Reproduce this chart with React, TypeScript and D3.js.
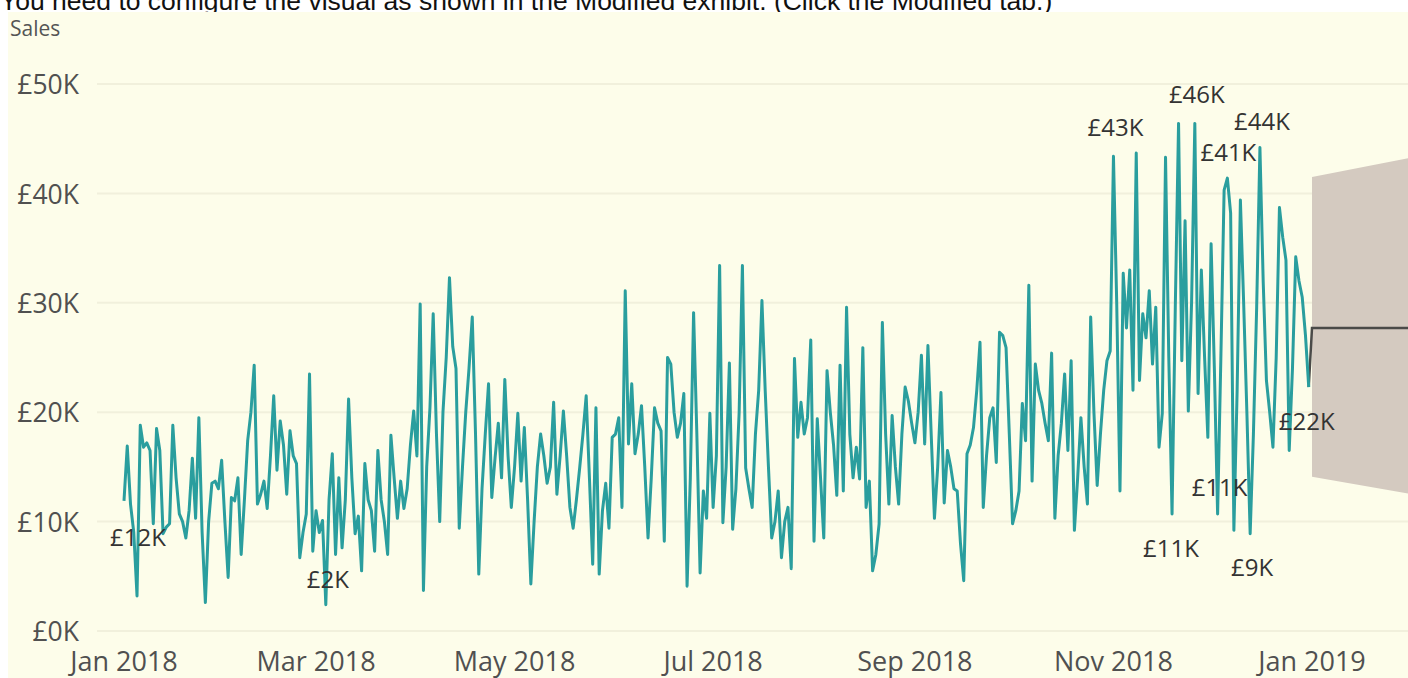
import * as d3 from "d3";
import React, { useEffect, useRef } from "react";

// Daily sales 2018, in £K.
const jan = [11.9, 16.9, 11.6, 9.0, 3.2, 18.8, 16.8, 17.2, 16.5, 9.8, 18.5, 16.5, 8.9, 9.5, 9.8, 18.8, 14.0, 10.7, 10.0, 8.5, 11.0, 15.8, 10.3, 19.5, 9.0, 2.6, 10.0, 13.5, 13.7, 13.0, 15.6];
const feb = [10.0, 4.9, 12.2, 11.9, 14.0, 7.0, 12.0, 17.4, 20.0, 24.3, 11.6, 12.5, 13.7, 11.2, 16.0, 21.5, 14.7, 19.2, 17.0, 12.5, 18.3, 16.0, 15.3, 6.7, 9.0, 10.7, 23.5, 7.3];
const mar = [11.0, 9.0, 10.1, 2.4, 12.0, 16.2, 7.0, 14.0, 7.6, 12.0, 21.2, 14.0, 8.9, 10.5, 5.5, 15.3, 12.0, 11.0, 7.3, 16.5, 12.0, 10.0, 7.0, 17.9, 14.0, 10.3, 13.7, 11.2, 13.0, 17.0, 20.1];
const apr = [16.0, 29.9, 3.7, 15.0, 20.4, 29.0, 18.0, 10.0, 20.0, 25.0, 32.3, 26.0, 24.0, 9.4, 15.0, 20.0, 24.0, 28.7, 18.0, 5.2, 13.0, 18.0, 22.6, 12.2, 15.8, 19.0, 14.0, 23.0, 16.0, 11.3];
const may = [15.0, 19.9, 13.7, 18.6, 12.0, 4.3, 10.0, 15.0, 18.0, 16.0, 13.5, 15.0, 20.9, 12.5, 16.0, 20.1, 16.0, 11.3, 9.4, 12.0, 14.9, 18.0, 21.5, 14.0, 6.1, 20.4, 5.2, 11.0, 13.5, 9.4, 17.7];
const jun = [18.0, 19.5, 11.3, 31.1, 17.1, 22.6, 16.2, 18.0, 20.6, 15.0, 8.5, 14.0, 20.4, 19.0, 18.3, 8.2, 25.0, 24.4, 20.0, 17.7, 19.0, 21.7, 4.1, 14.0, 29.1, 18.0, 5.3, 12.8, 10.3, 19.9];
const jul = [11.3, 16.0, 33.4, 9.9, 15.0, 24.5, 9.3, 13.0, 20.0, 33.4, 14.9, 13.0, 11.3, 18.0, 22.0, 30.2, 22.0, 15.0, 8.5, 10.0, 12.8, 6.7, 10.0, 11.3, 5.7, 24.9, 17.7, 20.9, 18.0, 19.5, 26.6];
const aug = [8.2, 19.4, 14.0, 8.5, 23.8, 20.0, 17.0, 12.4, 24.3, 12.8, 29.6, 18.0, 14.0, 16.8, 13.9, 25.9, 11.3, 13.7, 5.5, 7.0, 9.8, 28.2, 18.0, 11.6, 19.7, 15.0, 11.6, 18.0, 22.3, 21.0, 19.0];
const sep = [17.2, 20.0, 25.2, 17.1, 26.1, 18.0, 10.3, 15.0, 21.8, 11.7, 16.5, 15.0, 13.0, 12.8, 8.0, 4.6, 16.2, 17.0, 18.6, 22.0, 26.4, 11.3, 16.0, 19.5, 20.4, 15.4, 27.3, 27.0, 25.9, 18.0];
const oct = [9.8, 11.0, 12.8, 20.8, 17.4, 31.6, 13.7, 24.4, 22.0, 20.8, 19.0, 17.4, 25.4, 10.3, 16.0, 19.0, 23.5, 16.5, 24.7, 9.2, 14.0, 19.5, 15.0, 11.6, 28.7, 20.0, 13.3, 18.0, 22.0, 24.7, 25.6];
const nov = [43.4, 30.0, 12.8, 32.7, 27.7, 33.0, 22.0, 43.7, 22.9, 29.0, 26.8, 31.1, 24.4, 29.6, 16.8, 19.9, 43.3, 25.0, 10.7, 29.6, 46.4, 24.7, 37.5, 20.1, 30.0, 46.4, 21.7, 33.0, 25.0, 17.7];
const dec = [35.4, 24.0, 10.7, 25.0, 40.3, 41.4, 38.2, 9.2, 22.0, 39.4, 30.0, 19.9, 8.9, 18.0, 29.6, 44.2, 32.0, 22.9, 20.0, 16.8, 25.0, 38.7, 36.0, 33.9, 16.5, 24.0, 34.2, 32.0, 30.5, 27.0, 22.3];

// Forecast (Jan 2019), £K.
const forecastDates = ["2019-01-01", "2019-02-01"];
const forecastValue = [27.7, 27.7];
const forecastUpper = [41.5, 43.3];
const forecastLower = [14.1, 12.5];

// Days of the year (0 = 1 Jan 2018) that carry a data label.
const labelDays = [0, 62, 304, 329, 349, 339, 364, 336, 322, 346];

const yTicks = [0, 10, 20, 30, 40, 50];

export default function App() {
  const ref = useRef<SVGSVGElement>(null);

  useEffect(() => {
    const width = 1408;
    const height = 678;
    const font = "'Open Sans', sans-serif";

    const svg = d3.select(ref.current);
    svg.selectAll("*").remove();

    const start = new Date(Date.UTC(2018, 0, 1));
    const values = [jan, feb, mar, apr, may, jun, jul, aug, sep, oct, nov, dec].flat();
    const data = values.map((v, i) => ({ date: d3.utcDay.offset(start, i), value: v }));

    const xScale = d3.scaleUtc([start, new Date(Date.UTC(2019, 0, 1))], [124, 1312]);
    const yScale = d3.scaleLinear([0, 50], [631, 84]);

    // Header text of the exhibit (cut at the top, as in the screenshot).
    svg
      .append("text")
      .attr("x", 0)
      .attr("y", 10)
      .attr("font-family", "'Liberation Sans', Arial, sans-serif")
      .attr("font-size", 26.5)
      .attr("fill", "#111")
      .text("You need to configure the visual as shown in the Modified exhibit. (Click the Modified tab.)");

    // Chart background.
    svg.append("rect").attr("x", 8).attr("y", 12).attr("width", width - 8).attr("height", height - 12).attr("fill", "#fdfdea");

    svg
      .append("text")
      .attr("x", 10)
      .attr("y", 29)
      .attr("dy", "0.35em")
      .attr("font-family", font)
      .attr("font-size", 21)
      .attr("fill", "#555")
      .text("Sales");

    // Gridlines + y labels.
    const yAxis = svg.append("g");
    yAxis
      .selectAll("line")
      .data(yTicks)
      .join("line")
      .attr("x1", 97)
      .attr("x2", width)
      .attr("y1", (d) => yScale(d))
      .attr("y2", (d) => yScale(d))
      .attr("stroke", "#f1f0dc")
      .attr("stroke-width", 2);
    yAxis
      .selectAll("text")
      .data(yTicks)
      .join("text")
      .attr("x", 79)
      .attr("y", (d) => yScale(d) + 1)
      .attr("dy", "0.35em")
      .attr("text-anchor", "end")
      .attr("font-family", font)
      .attr("font-size", 26.5)
      .attr("fill", "#505050")
      .text((d) => `£${d}K`);

    // x axis labels, every two months.
    const xTicks = xScale.ticks(d3.utcMonth.every(2));
    svg
      .append("g")
      .selectAll("text")
      .data(xTicks)
      .join("text")
      .attr("x", (d) => xScale(d))
      .attr("y", 662)
      .attr("dy", "0.35em")
      .attr("text-anchor", "middle")
      .attr("font-family", font)
      .attr("font-size", 27)
      .attr("fill", "#505050")
      .text((d) => d3.utcFormat("%b %Y")(d));

    // Forecast band and line.
    const fc = forecastDates.map((d, i) => ({
      date: new Date(d + "T00:00:00Z"),
      value: forecastValue[i],
      lo: forecastLower[i],
      hi: forecastUpper[i],
    }));
    svg
      .append("path")
      .datum(fc)
      .attr("fill", "#d4cac0")
      .attr(
        "d",
        d3
          .area<any>()
          .x((d) => xScale(d.date))
          .y0((d) => yScale(d.lo))
          .y1((d) => yScale(d.hi))
      );

    const line = d3
      .line<any>()
      .x((d) => xScale(d.date))
      .y((d) => yScale(d.value));

    svg
      .append("path")
      .datum([data[data.length - 1], ...fc])
      .attr("fill", "none")
      .attr("stroke", "#4a4a48")
      .attr("stroke-width", 2.5)
      .attr("d", line);

    svg
      .append("path")
      .datum(data)
      .attr("fill", "none")
      .attr("stroke", "#2a9e9e")
      .attr("stroke-width", 3)
      .attr("stroke-linejoin", "round")
      .attr("d", line);

    // Data labels: offsets from their points.
    const labelDx = [14, 2, 2, 2, 2, 1, -2, 2, -1, 2];
    const labelDy = [37, -25, -29, -29, -26, -25, 35, -26, 35, 34];
    svg
      .append("g")
      .selectAll("text")
      .data(labelDays)
      .join("text")
      .attr("x", (d, i) => xScale(data[d].date) + labelDx[i])
      .attr("y", (d, i) => yScale(data[d].value) + labelDy[i])
      .attr("dy", "0.35em")
      .attr("text-anchor", "middle")
      .attr("font-family", font)
      .attr("font-size", 24)
      .attr("fill", "#333")
      .text((d) => `£${Math.round(data[d].value)}K`);
  }, []);

  return <svg ref={ref} width={1408} height={678} style={{ position: "absolute", left: 0, top: 0 }} />;
}
